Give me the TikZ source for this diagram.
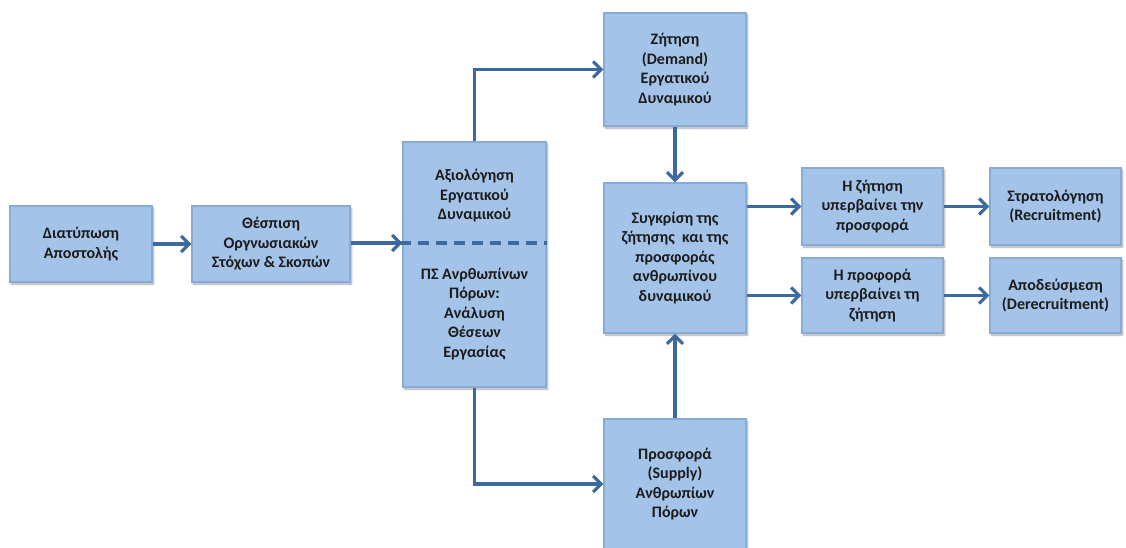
\documentclass[tikz,border=0pt]{standalone}
\usepackage{fontspec}
\setmainfont{Carlito}
\usetikzlibrary{arrows.meta,shadows.blur}
\definecolor{boxfill}{HTML}{A3C3E8}
\definecolor{boxedge}{HTML}{86ABD8}
\definecolor{flow}{HTML}{3D6A9E}
\definecolor{ink}{HTML}{1C1C1C}
\tikzset{
  box/.style={rectangle, draw=boxedge, line width=1.2pt, fill=boxfill,
    align=center, inner sep=0pt, text=ink,
    font=\bfseries\fontsize{16}{19.5}\selectfont,
    blur shadow={shadow xshift=1.5pt, shadow yshift=-2pt, shadow blur steps=6, shadow opacity=35}},
  label/.style={align=center, inner sep=0pt, text=ink,
    font=\bfseries\fontsize{16}{19.5}\selectfont},
  flowline/.style={draw=flow, line width=3.2pt,
    -{Straight Barb[length=8pt,width=16pt,line width=3.2pt]}},
  divider/.style={draw=flow, line width=3.2pt, dash pattern=on 11pt off 7pt}
}
\begin{document}
\begin{tikzpicture}[x=1pt,y=-1pt]
\useasboundingbox (0,0) rectangle (1126,548);

% boxes of the planning process
\node[box, minimum width=142pt, minimum height=76pt] (b1) at (81,244) {Διατύπωση\\Αποστολής};
\node[box, minimum width=158pt, minimum height=76pt] (b2) at (271,244) {Θέσπιση\\Οργνωσιακών\\Στόχων \& Σκοπών};
\node[box, minimum width=143pt, minimum height=245pt] (b3) at (474.5,264.5) {};
\node[label] (b3top) at (474.5,196) {Αξιολόγηση\\Εργατικού\\Δυναμικού};
\node[label] (b3bot) at (474.5,314) {ΠΣ Ανρθωπίνων\\Πόρων:\\Ανάλυση\\Θέσεων\\Εργασίας};
\node[box, minimum width=142pt, minimum height=113pt] (b4) at (675,69.5) {Ζήτηση\\(Demand)\\Εργατικού\\Δυναμικού};
\node[box, minimum width=142pt, minimum height=150pt] (b5) at (675,258) {Συγκρίση της\\ζήτησης\ \ και της\\προσφοράς\\ανθρωπίνου\\δυναμικού};
\node[box, minimum width=142pt, minimum height=130pt] (b6) at (675,484) {Προσφορά\\(Supply)\\Ανθρωπίων\\Πόρων};
\node[box, minimum width=141pt, minimum height=77pt] (b7) at (872.5,206.5) {Η ζήτηση\\υπερβαίνει την\\προσφορά};
\node[box, minimum width=141pt, minimum height=75pt] (b8) at (872.5,295.5) {Η προφορά\\υπερβαίνει τη\\ζήτηση};
\node[box, minimum width=131pt, minimum height=77pt] (b9) at (1055.5,206.5) {Στρατολόγηση\\(Recruitment)};
\node[box, minimum width=131pt, minimum height=75pt] (b10) at (1055.5,295.5) {Αποδεύσμεση\\(Derecruitment)};

% dashed split inside the assessment box
\coordinate (dashL) at (400,243);
\draw[divider] (dashL) -- (dashL -| b3.east);

% connectors
\draw[flowline] (b1.east) -- (b2.west);
\draw[flowline] (b2.east |- dashL) -- (b3.west |- dashL);
\draw[flowline] (b3.north) |- (b4.west);
\draw[flowline] (b3.south) |- (b6.west);
\draw[flowline] (b4.south) -- (b5.north);
\draw[flowline] (b6.north) -- (b5.south);
\draw[flowline] (b5.east |- b7.west) -- (b7.west);
\draw[flowline] (b5.east |- b8.west) -- (b8.west);
\draw[flowline] (b7.east) -- (b9.west);
\draw[flowline] (b8.east) -- (b10.west);
\end{tikzpicture}
\end{document}
